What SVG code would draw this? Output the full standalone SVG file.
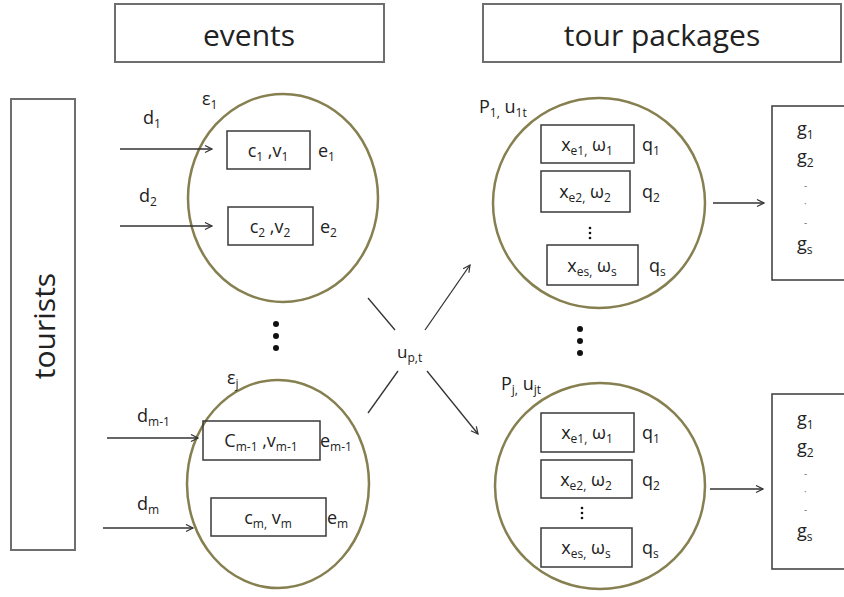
<svg xmlns="http://www.w3.org/2000/svg" width="844" height="597" viewBox="0 0 844 597">
<defs>
<marker id="ah" markerWidth="10" markerHeight="10" refX="8" refY="4" orient="auto" markerUnits="userSpaceOnUse">
<path d="M1,0.5 L8,4 L1,7.5" fill="none" stroke="#333" stroke-width="1.2"/>
</marker>
<style>
text{font-family:"Open Sans","Liberation Sans",sans-serif;fill:#222;}
.title{font-size:30px;}
.lbl{font-size:18px;}
.s{font-size:12px;}
.tbox{fill:#fff;stroke:#6e6e6e;stroke-width:2;}
.box{fill:none;stroke:#3a3a3a;stroke-width:1.5;}
.ell{fill:none;stroke:#867f50;stroke-width:2.5;}
.con{fill:none;stroke:#333;stroke-width:1.3;}
.dash{font-size:10px;fill:#777;}
.dot{fill:#111;}
</style>
</defs>
<rect width="844" height="597" fill="#fff"/>

<g id="events-title">
<rect class="tbox" x="115" y="4" width="269" height="58"/>
<text class="title" x="249" y="46" text-anchor="middle">events</text>
</g>
<g id="packages-title">
<rect class="tbox" x="483" y="4" width="358" height="58"/>
<text class="title" x="662" y="46" text-anchor="middle">tour packages</text>
</g>
<g id="tourists">
<rect class="tbox" x="11" y="99" width="64" height="451"/>
<text class="title" transform="translate(55,326) rotate(-90)" text-anchor="middle">tourists</text>
</g>

<g id="event-1">
<ellipse class="ell" cx="283" cy="198" rx="95" ry="104"/>
<text class="lbl" x="202" y="105">ε<tspan class="s" dy="4">1</tspan></text>
<rect class="box" x="227" y="131" width="83" height="38"/>
<text class="lbl" x="268" y="157" text-anchor="middle">c<tspan class="s" dy="4">1</tspan><tspan dy="-4"> ,v</tspan><tspan class="s" dy="4">1</tspan></text>
<text class="lbl" x="318" y="157">e<tspan class="s" dy="4">1</tspan></text>
<rect class="box" x="228" y="207" width="85" height="38"/>
<text class="lbl" x="270" y="233" text-anchor="middle">c<tspan class="s" dy="4">2</tspan><tspan dy="-4"> ,v</tspan><tspan class="s" dy="4">2</tspan></text>
<text class="lbl" x="320" y="233">e<tspan class="s" dy="4">2</tspan></text>
</g>

<g id="event-j">
<ellipse class="ell" cx="278" cy="484" rx="91" ry="104"/>
<text class="lbl" x="227" y="384">ε<tspan class="s" dy="4">j</tspan></text>
<rect class="box" x="203" y="421" width="117" height="39"/>
<text class="lbl" x="261" y="447" text-anchor="middle">C<tspan class="s" dy="4">m-1</tspan><tspan dy="-4"> ,v</tspan><tspan class="s" dy="4">m-1</tspan></text>
<text class="lbl" x="320" y="447">e<tspan class="s" dy="4">m-1</tspan></text>
<rect class="box" x="211" y="498" width="115" height="38"/>
<text class="lbl" x="268" y="524" text-anchor="middle">c<tspan class="s" dy="4">m,</tspan><tspan dy="-4"> v</tspan><tspan class="s" dy="4">m</tspan></text>
<text class="lbl" x="327" y="524">e<tspan class="s" dy="4">m</tspan></text>
</g>

<g id="event-dots">
<circle class="dot" cx="276" cy="324" r="3"/>
<circle class="dot" cx="276" cy="336" r="3"/>
<circle class="dot" cx="276" cy="348" r="3"/>
</g>

<g id="package-1">
<ellipse class="ell" cx="599" cy="203" rx="106" ry="105"/>
<text class="lbl" x="479" y="113">P<tspan class="s" dy="4">1,</tspan><tspan dy="-4"> u</tspan><tspan class="s" dy="4">1t</tspan></text>
<rect class="box" x="541" y="125" width="93" height="38"/>
<text class="lbl" x="587" y="151" text-anchor="middle">x<tspan class="s" dy="4">e1,</tspan><tspan dy="-4"> ω</tspan><tspan class="s" dy="4">1</tspan></text>
<text class="lbl" x="642" y="151">q<tspan class="s" dy="4">1</tspan></text>
<rect class="box" x="541" y="171" width="89" height="41"/>
<text class="lbl" x="585" y="198" text-anchor="middle">x<tspan class="s" dy="4">e2,</tspan><tspan dy="-4"> ω</tspan><tspan class="s" dy="4">2</tspan></text>
<text class="lbl" x="642" y="198">q<tspan class="s" dy="4">2</tspan></text>
<circle class="dot" cx="590" cy="228" r="1.3"/>
<circle class="dot" cx="590" cy="233" r="1.3"/>
<circle class="dot" cx="590" cy="238" r="1.3"/>
<rect class="box" x="547" y="245" width="91" height="40"/>
<text class="lbl" x="592" y="272" text-anchor="middle">x<tspan class="s" dy="4">es,</tspan><tspan dy="-4"> ω</tspan><tspan class="s" dy="4">s</tspan></text>
<text class="lbl" x="649" y="272">q<tspan class="s" dy="4">s</tspan></text>
</g>

<g id="groups-1">
<rect class="box" x="772" y="106" width="90" height="174"/>
<text class="lbl" x="797" y="135">g<tspan class="s" dy="4">1</tspan></text>
<text class="lbl" x="797" y="163">g<tspan class="s" dy="4">2</tspan></text>
<text class="dash" x="804" y="189">-</text>
<text class="dash" x="804" y="207">·</text>
<text class="dash" x="804" y="226">-</text>
<text class="lbl" x="797" y="250">g<tspan class="s" dy="4">s</tspan></text>
</g>

<g id="package-dots">
<circle class="dot" cx="580" cy="329" r="3"/>
<circle class="dot" cx="580" cy="341" r="3"/>
<circle class="dot" cx="580" cy="353" r="3"/>
</g>

<g id="package-j">
<ellipse class="ell" cx="600" cy="486" rx="105" ry="103"/>
<text class="lbl" x="501" y="390">P<tspan class="s" dy="4">j,</tspan><tspan dy="-4"> u</tspan><tspan class="s" dy="4">jt</tspan></text>
<rect class="box" x="541" y="413" width="93" height="39"/>
<text class="lbl" x="587" y="439" text-anchor="middle">x<tspan class="s" dy="4">e1,</tspan><tspan dy="-4"> ω</tspan><tspan class="s" dy="4">1</tspan></text>
<text class="lbl" x="642" y="439">q<tspan class="s" dy="4">1</tspan></text>
<rect class="box" x="541" y="460" width="91" height="38"/>
<text class="lbl" x="586" y="486" text-anchor="middle">x<tspan class="s" dy="4">e2,</tspan><tspan dy="-4"> ω</tspan><tspan class="s" dy="4">2</tspan></text>
<text class="lbl" x="642" y="486">q<tspan class="s" dy="4">2</tspan></text>
<circle class="dot" cx="582" cy="508" r="1.3"/>
<circle class="dot" cx="582" cy="513" r="1.3"/>
<circle class="dot" cx="582" cy="518" r="1.3"/>
<rect class="box" x="541" y="528" width="91" height="39"/>
<text class="lbl" x="586" y="554" text-anchor="middle">x<tspan class="s" dy="4">es,</tspan><tspan dy="-4"> ω</tspan><tspan class="s" dy="4">s</tspan></text>
<text class="lbl" x="642" y="554">q<tspan class="s" dy="4">s</tspan></text>
</g>

<g id="groups-j">
<rect class="box" x="772" y="394" width="90" height="175"/>
<text class="lbl" x="797" y="425">g<tspan class="s" dy="4">1</tspan></text>
<text class="lbl" x="797" y="453">g<tspan class="s" dy="4">2</tspan></text>
<text class="dash" x="804" y="477">-</text>
<text class="dash" x="804" y="495">·</text>
<text class="dash" x="804" y="513">-</text>
<text class="lbl" x="797" y="537">g<tspan class="s" dy="4">s</tspan></text>
</g>

<g id="connectors">
<line class="con" x1="120" y1="149" x2="212" y2="149" marker-end="url(#ah)"/>
<text class="lbl" x="143" y="124">d<tspan class="s" dy="4">1</tspan></text>
<line class="con" x1="120" y1="226" x2="212" y2="226" marker-end="url(#ah)"/>
<text class="lbl" x="139" y="202">d<tspan class="s" dy="4">2</tspan></text>
<line class="con" x1="107" y1="438" x2="198" y2="438" marker-end="url(#ah)"/>
<text class="lbl" x="137" y="422">d<tspan class="s" dy="4">m-1</tspan></text>
<line class="con" x1="103" y1="528" x2="193" y2="528" marker-end="url(#ah)"/>
<text class="lbl" x="137" y="510">d<tspan class="s" dy="4">m</tspan></text>
<line class="con" x1="368" y1="298" x2="395" y2="330"/>
<line class="con" x1="425" y1="330" x2="470" y2="265" marker-end="url(#ah)"/>
<line class="con" x1="368" y1="413" x2="398" y2="371"/>
<line class="con" x1="427" y1="371" x2="478" y2="434" marker-end="url(#ah)"/>
<text class="lbl" x="397" y="358" style="font-size:17px">u<tspan class="s" dy="4">p,t</tspan></text>
<line class="con" x1="713" y1="203" x2="764" y2="203" marker-end="url(#ah)"/>
<line class="con" x1="710" y1="489" x2="763" y2="489" marker-end="url(#ah)"/>
</g>
</svg>
